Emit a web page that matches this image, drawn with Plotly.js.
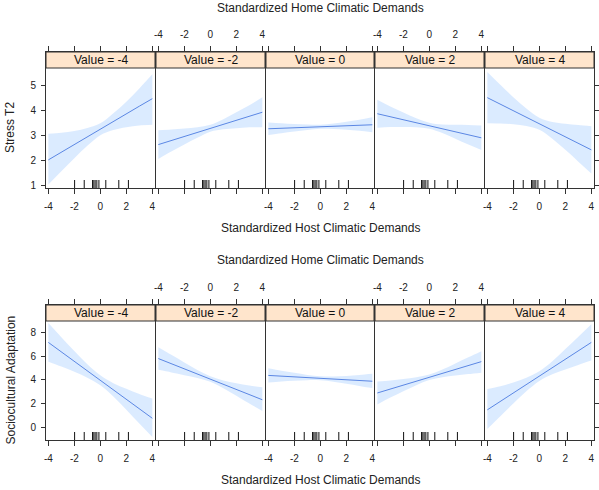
<!DOCTYPE html>
<html>
<head>
<meta charset="utf-8">
<script src="https://cdn.plot.ly/plotly-3.0.1.min.js"></script>
<style>html,body{margin:0;padding:0;background:#fff;}#chart{width:599px;height:490px;}</style>
</head>
<body>
<div id="chart"></div>
<script>
// ---------- data ----------
const hostX = [-4, -3, -2, -1, 0, 1, 2, 3, 4];
const homeValues = [-4, -2, 0, 2, 4];
const stripLabels = ["Value = -4", "Value = -2", "Value = 0", "Value = 2", "Value = 4"];
const xTickVals = [-4, -2, 0, 2, 4];
const xTickText = ["-4", "-2", "0", "2", "4"];
const rugX = [-1.98, -1.24, -0.60, -0.50, -0.40, -0.27, -0.11, 0.42, 1.42, 2.16];

// Stress T2 (top row)
const stressFit = [
  [2.03, 2.34, 2.64, 2.94, 3.25, 3.56, 3.86, 4.17, 4.47],
  [2.64, 2.80, 2.96, 3.12, 3.29, 3.45, 3.61, 3.77, 3.93],
  [3.27, 3.29, 3.31, 3.33, 3.35, 3.37, 3.39, 3.41, 3.43],
  [3.87, 3.75, 3.63, 3.51, 3.39, 3.27, 3.15, 3.03, 2.91],
  [4.51, 4.25, 3.99, 3.73, 3.47, 3.21, 2.95, 2.69, 2.43]
];
const stressUpper = [
  [3.07, 3.11, 3.18, 3.30, 3.49, 3.89, 4.35, 4.88, 5.44],
  [3.21, 3.24, 3.28, 3.33, 3.43, 3.65, 3.93, 4.21, 4.53],
  [3.52, 3.49, 3.46, 3.44, 3.43, 3.48, 3.55, 3.63, 3.73],
  [4.43, 4.16, 3.92, 3.69, 3.51, 3.44, 3.43, 3.42, 3.40],
  [5.53, 5.02, 4.53, 4.08, 3.71, 3.54, 3.47, 3.42, 3.37]
];
const stressLower = [
  [1.05, 1.58, 2.10, 2.59, 3.01, 3.22, 3.33, 3.40, 3.43],
  [2.07, 2.36, 2.64, 2.91, 3.15, 3.25, 3.29, 3.33, 3.33],
  [3.02, 3.09, 3.16, 3.22, 3.27, 3.26, 3.23, 3.19, 3.13],
  [3.31, 3.34, 3.34, 3.33, 3.27, 3.10, 2.87, 2.64, 2.42],
  [3.49, 3.48, 3.45, 3.38, 3.23, 2.87, 2.43, 1.96, 1.49]
];
const stressTicks = [1, 2, 3, 4, 5];

// Sociocultural Adaptation (bottom row)
const socioFit = [
  [7.15, 6.35, 5.55, 4.75, 3.96, 3.16, 2.36, 1.56, 0.76],
  [5.79, 5.36, 4.92, 4.49, 4.06, 3.62, 3.19, 2.75, 2.32],
  [4.37, 4.31, 4.25, 4.19, 4.13, 4.06, 4.00, 3.94, 3.88],
  [2.89, 3.22, 3.55, 3.88, 4.21, 4.54, 4.87, 5.20, 5.53],
  [1.47, 2.18, 2.89, 3.60, 4.31, 5.02, 5.73, 6.44, 7.15]
];
const socioUpper = [
  [8.78, 7.59, 6.43, 5.32, 4.38, 3.72, 3.24, 2.80, 2.42],
  [6.74, 6.10, 5.45, 4.82, 4.29, 3.95, 3.72, 3.52, 3.38],
  [4.97, 4.77, 4.59, 4.41, 4.30, 4.28, 4.33, 4.41, 4.50],
  [3.85, 3.94, 4.06, 4.21, 4.44, 4.86, 5.38, 5.89, 6.40],
  [3.22, 3.45, 3.78, 4.17, 4.72, 5.57, 6.59, 7.63, 8.68]
];
const socioLower = [
  [5.52, 5.11, 4.67, 4.18, 3.54, 2.60, 1.48, 0.32, -0.82],
  [4.84, 4.62, 4.39, 4.16, 3.83, 3.29, 2.66, 2.00, 1.38],
  [3.77, 3.85, 3.91, 3.97, 3.96, 3.84, 3.67, 3.48, 3.30],
  [1.93, 2.50, 3.04, 3.55, 3.98, 4.22, 4.36, 4.48, 4.60],
  [-0.15, 0.93, 2.00, 3.03, 3.90, 4.47, 4.87, 5.25, 5.62]
];
const socioTicks = [0, 2, 4, 6, 8];

// ---------- layout helpers ----------
const W = 599, H = 490;
const FONT = "Liberation Sans, Arial, sans-serif";
// [start, end] pixel spans of the five columns (1px gap so shared borders coincide)
const colSpans = [[46, 155], [156, 265], [266, 374], [375, 484], [485, 594]];
const rows = [
  {top: 52, bottom: 188, stripBottom: 68, range: [0.91, 6.33], ticks: stressTicks,
   fit: stressFit, up: stressUpper, lo: stressLower, ytitle: "Stress T2",
   topTitleY: 8, bottomTitleY: 228},
  {top: 305, bottom: 440, stripBottom: 321, range: [-1.07, 10.30], ticks: socioTicks,
   fit: socioFit, up: socioUpper, lo: socioLower, ytitle: "Sociocultural Adaptation",
   topTitleY: 260, bottomTitleY: 480}
];
const lineCol = "#5b87e4";
const bandCol = "rgba(0,110,255,0.14)";
const axCol = "#333333";

const traces = [];
const layout = {
  width: W, height: H,
  margin: {l: 0, r: 0, t: 0, b: 0},
  paper_bgcolor: "#fff", plot_bgcolor: "rgba(0,0,0,0)",
  showlegend: false,
  font: {family: FONT, size: 10, color: "#222"},
  shapes: [], annotations: []
};

rows.forEach((row, r) => {
  const yDom = [1 - row.bottom / H, 1 - row.top / H];
  const stripFrac = (row.bottom - row.stripBottom) / (row.bottom - row.top);
  for (let p = 0; p < 5; p++) {
    const i = r * 5 + p + 1;
    const xa = "x" + i, ya = "y" + i;
    const xKey = "xaxis" + (i === 1 ? "" : i);
    const yKey = "yaxis" + (i === 1 ? "" : i);
    const labelTop = (p === 1 || p === 3);
    const span = colSpans[p];
    const pxPerUnit = (span[1] - span[0]) / 8.43;
    layout[xKey] = {
      domain: [span[0] / W, span[1] / W],
      anchor: ya, range: [-4.18, -4.18 + (span[1] - span[0]) / 13.0],
      tickvals: xTickVals, ticktext: xTickText,
      ticks: "outside", ticklen: 5, tickcolor: axCol, tickwidth: 1,
      side: labelTop ? "top" : "bottom",
      showticklabels: true, ticklabelstandoff: 4,
      tickfont: {family: FONT, size: 10, color: "#222"},
      showline: true, linecolor: axCol, linewidth: 1, mirror: "ticks",
      showgrid: false, zeroline: false, fixedrange: true
    };
    layout[yKey] = {
      domain: yDom, anchor: xa, range: row.range,
      tickvals: row.ticks, ticktext: row.ticks.map(String),
      ticks: (p === 0 || p === 4) ? "outside" : "",
      ticklen: 4, tickcolor: axCol,
      side: p === 4 ? "right" : "left",
      showticklabels: p === 0, ticklabelstandoff: 3,
      tickfont: {family: FONT, size: 10, color: "#222"},
      showline: true, linecolor: axCol, linewidth: 1, mirror: true,
      showgrid: false, zeroline: false, fixedrange: true
    };
    // band
    traces.push({x: hostX, y: row.lo[p], xaxis: xa, yaxis: ya, type: "scatter",
      mode: "lines", line: {width: 0, shape: "spline", smoothing: 1}, hoverinfo: "skip"});
    traces.push({x: hostX, y: row.up[p], xaxis: xa, yaxis: ya, type: "scatter",
      mode: "lines", fill: "tonexty", fillcolor: bandCol,
      line: {width: 0, shape: "spline", smoothing: 1}, hoverinfo: "skip"});
    // fit line
    traces.push({x: hostX, y: row.fit[p], xaxis: xa, yaxis: ya, type: "scatter",
      mode: "lines", line: {color: lineCol, width: 1}, hoverinfo: "skip"});
    // rug
    rugX.forEach(v => {
      layout.shapes.push({type: "line", xref: xa, yref: ya + " domain",
        x0: v, x1: v, y0: 0, y1: 8 / (row.bottom - row.top),
        line: {color: "#111", width: 1}});
    });
    // strip
    layout.shapes.push({type: "rect", xref: xa + " domain", yref: ya + " domain",
      x0: 0, x1: 1, y0: stripFrac, y1: 1, fillcolor: "#ffe5cc",
      line: {color: axCol, width: 1}, layer: "above"});
    layout.annotations.push({xref: xa + " domain", yref: ya + " domain",
      x: 0.5, y: (stripFrac + 1) / 2, text: stripLabels[p], showarrow: false,
      xanchor: "center", yanchor: "middle",
      font: {family: FONT, size: 12, color: "#111"}});
  }
  // titles
  const cx = (colSpans[0][0] + colSpans[4][1]) / 2 / W;
  layout.annotations.push({xref: "paper", yref: "paper", x: cx, y: 1 - row.topTitleY / H,
    text: "Standardized Home Climatic Demands", showarrow: false,
    xanchor: "center", yanchor: "middle", font: {family: FONT, size: 12, color: "#222"}});
  layout.annotations.push({xref: "paper", yref: "paper", x: cx, y: 1 - row.bottomTitleY / H,
    text: "Standardized Host Climatic Demands", showarrow: false,
    xanchor: "center", yanchor: "middle", font: {family: FONT, size: 12, color: "#222"}});
  layout.annotations.push({xref: "paper", yref: "paper", x: 10 / W,
    y: 1 - ((row.stripBottom + row.bottom) / 2) / H,
    text: row.ytitle, showarrow: false, textangle: -90,
    xanchor: "center", yanchor: "middle", font: {family: FONT, size: 12, color: "#222"}});
});

Plotly.newPlot("chart", traces, layout, {staticPlot: true, displayModeBar: false});
</script>
</body>
</html>
